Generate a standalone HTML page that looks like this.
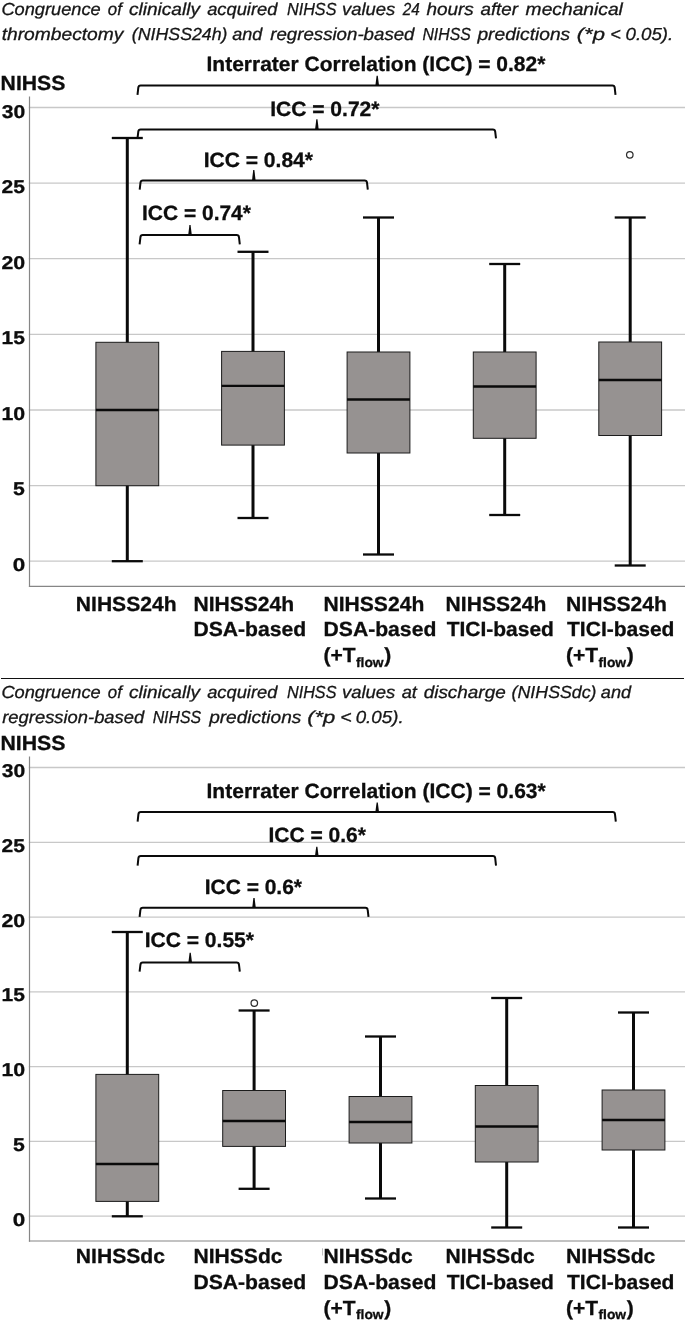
<!DOCTYPE html>
<html><head><meta charset="utf-8"><title>NIHSS boxplots</title>
<style>
html,body{margin:0;padding:0;background:#fff;}
body{width:685px;height:1320px;overflow:hidden;}
svg{display:block;font-family:'Liberation Sans', sans-serif;}
</style></head><body>
<svg width="685" height="1320" viewBox="0 0 685 1320" text-rendering="geometricPrecision">
<rect width="685" height="1320" fill="#fff"/>
<text y="14.9" font-size="17.4" font-weight="normal" font-style="italic" fill="#161616" stroke="#161616" stroke-width="0.3"><tspan x="1.45" textLength="99.23" lengthAdjust="spacingAndGlyphs">Congruence</tspan> <tspan x="107.82" textLength="14.05" lengthAdjust="spacingAndGlyphs">of</tspan> <tspan x="128.95" textLength="71.03" lengthAdjust="spacingAndGlyphs">clinically</tspan> <tspan x="207.17" textLength="70.27" lengthAdjust="spacingAndGlyphs">acquired</tspan> <tspan x="287.04" textLength="49.41" lengthAdjust="spacingAndGlyphs">NIHSS</tspan> <tspan x="342.04" textLength="53.32" lengthAdjust="spacingAndGlyphs">values</tspan> <tspan x="402.70" textLength="17.02" lengthAdjust="spacingAndGlyphs">24</tspan> <tspan x="426.43" textLength="47.33" lengthAdjust="spacingAndGlyphs">hours</tspan> <tspan x="480.46" textLength="37.57" lengthAdjust="spacingAndGlyphs">after</tspan> <tspan x="525.62" textLength="97.27" lengthAdjust="spacingAndGlyphs">mechanical</tspan></text>
<text y="40.1" font-size="17.4" font-weight="normal" font-style="italic" fill="#161616" stroke="#161616" stroke-width="0.3"><tspan x="1.67" textLength="121.73" lengthAdjust="spacingAndGlyphs">thrombectomy</tspan> <tspan x="131.83" textLength="95.69" lengthAdjust="spacingAndGlyphs">(NIHSS24h)</tspan> <tspan x="232.28" textLength="30.12" lengthAdjust="spacingAndGlyphs">and</tspan> <tspan x="270.23" textLength="144.27" lengthAdjust="spacingAndGlyphs">regression-based</tspan> <tspan x="422.45" textLength="48.30" lengthAdjust="spacingAndGlyphs">NIHSS</tspan> <tspan x="477.45" textLength="92.74" lengthAdjust="spacingAndGlyphs">predictions</tspan> <tspan x="576.75" textLength="28.16" lengthAdjust="spacingAndGlyphs">(*p</tspan> <tspan x="610.16" textLength="10.51" lengthAdjust="spacingAndGlyphs">&lt;</tspan> <tspan x="625.49" textLength="47.81" lengthAdjust="spacingAndGlyphs">0.05).</tspan></text>
<text transform="translate(0.60 90.4) scale(1.0390 1)" font-size="20.4" font-weight="bold" font-style="normal" fill="#0d0d0d" stroke="#0d0d0d" stroke-width="0.3">NIHSS</text>
<line x1="28.8" y1="107.5" x2="685" y2="107.5" stroke="#c8c8c8" stroke-width="1.3"/>
<line x1="28.8" y1="183.1" x2="685" y2="183.1" stroke="#c8c8c8" stroke-width="1.3"/>
<line x1="28.8" y1="258.7" x2="685" y2="258.7" stroke="#c8c8c8" stroke-width="1.3"/>
<line x1="28.8" y1="334.4" x2="685" y2="334.4" stroke="#c8c8c8" stroke-width="1.3"/>
<line x1="28.8" y1="410.0" x2="685" y2="410.0" stroke="#c8c8c8" stroke-width="1.3"/>
<line x1="28.8" y1="485.6" x2="685" y2="485.6" stroke="#c8c8c8" stroke-width="1.3"/>
<line x1="28.8" y1="561.2" x2="685" y2="561.2" stroke="#c8c8c8" stroke-width="1.3"/>
<line x1="29.5" y1="96.4" x2="29.5" y2="587" stroke="#868686" stroke-width="1.2"/>
<line x1="28.9" y1="586.3" x2="685" y2="586.3" stroke="#868686" stroke-width="1.2"/>
<text transform="translate(1.73 117.5) scale(1.1377 1)" font-size="18.5" font-weight="bold" font-style="normal" fill="#0d0d0d" stroke="#0d0d0d" stroke-width="0.3">30</text>
<text transform="translate(1.45 193.0) scale(1.1377 1)" font-size="18.5" font-weight="bold" font-style="normal" fill="#0d0d0d" stroke="#0d0d0d" stroke-width="0.3">25</text>
<text transform="translate(1.44 268.6) scale(1.1526 1)" font-size="18.5" font-weight="bold" font-style="normal" fill="#0d0d0d" stroke="#0d0d0d" stroke-width="0.3">20</text>
<text transform="translate(1.48 344.1) scale(1.1360 1)" font-size="18.5" font-weight="bold" font-style="normal" fill="#0d0d0d" stroke="#0d0d0d" stroke-width="0.3">15</text>
<text transform="translate(1.46 419.6) scale(1.1514 1)" font-size="18.5" font-weight="bold" font-style="normal" fill="#0d0d0d" stroke="#0d0d0d" stroke-width="0.3">10</text>
<text transform="translate(13.03 495.1) scale(1.1459 1)" font-size="18.5" font-weight="bold" font-style="normal" fill="#0d0d0d" stroke="#0d0d0d" stroke-width="0.3">5</text>
<text transform="translate(12.69 570.7) scale(1.2114 1)" font-size="18.5" font-weight="bold" font-style="normal" fill="#0d0d0d" stroke="#0d0d0d" stroke-width="0.3">0</text>
<line x1="127.3" y1="138" x2="127.3" y2="561.2" stroke="#0a0a0a" stroke-width="3"/>
<line x1="111.8" y1="138" x2="142.8" y2="138" stroke="#0a0a0a" stroke-width="2.3"/>
<line x1="111.8" y1="561.2" x2="142.8" y2="561.2" stroke="#0a0a0a" stroke-width="2.3"/>
<rect x="95.9" y="342.3" width="62.8" height="143.39999999999998" fill="#969291" stroke="#1c1c1c" stroke-width="1"/>
<line x1="95.9" y1="410" x2="158.7" y2="410" stroke="#0a0a0a" stroke-width="2.3"/>
<line x1="253" y1="251.8" x2="253" y2="518" stroke="#0a0a0a" stroke-width="3"/>
<line x1="237.5" y1="251.8" x2="268.5" y2="251.8" stroke="#0a0a0a" stroke-width="2.3"/>
<line x1="237.5" y1="518" x2="268.5" y2="518" stroke="#0a0a0a" stroke-width="2.3"/>
<rect x="221.6" y="351.4" width="62.8" height="93.70000000000005" fill="#969291" stroke="#1c1c1c" stroke-width="1"/>
<line x1="221.6" y1="385.8" x2="284.4" y2="385.8" stroke="#0a0a0a" stroke-width="2.3"/>
<line x1="378.5" y1="217.5" x2="378.5" y2="554.5" stroke="#0a0a0a" stroke-width="3"/>
<line x1="363.0" y1="217.5" x2="394.0" y2="217.5" stroke="#0a0a0a" stroke-width="2.3"/>
<line x1="363.0" y1="554.5" x2="394.0" y2="554.5" stroke="#0a0a0a" stroke-width="2.3"/>
<rect x="347.1" y="352" width="62.8" height="101" fill="#969291" stroke="#1c1c1c" stroke-width="1"/>
<line x1="347.1" y1="399.5" x2="409.90000000000003" y2="399.5" stroke="#0a0a0a" stroke-width="2.3"/>
<line x1="504.7" y1="264" x2="504.7" y2="515" stroke="#0a0a0a" stroke-width="3"/>
<line x1="489.2" y1="264" x2="520.2" y2="264" stroke="#0a0a0a" stroke-width="2.3"/>
<line x1="489.2" y1="515" x2="520.2" y2="515" stroke="#0a0a0a" stroke-width="2.3"/>
<rect x="473.3" y="352" width="62.8" height="86.30000000000001" fill="#969291" stroke="#1c1c1c" stroke-width="1"/>
<line x1="473.3" y1="386.5" x2="536.1" y2="386.5" stroke="#0a0a0a" stroke-width="2.3"/>
<line x1="630.2" y1="217.5" x2="630.2" y2="565.5" stroke="#0a0a0a" stroke-width="3"/>
<line x1="614.7" y1="217.5" x2="645.7" y2="217.5" stroke="#0a0a0a" stroke-width="2.3"/>
<line x1="614.7" y1="565.5" x2="645.7" y2="565.5" stroke="#0a0a0a" stroke-width="2.3"/>
<rect x="598.8000000000001" y="342" width="62.8" height="93.5" fill="#969291" stroke="#1c1c1c" stroke-width="1"/>
<line x1="598.8000000000001" y1="380" x2="661.6" y2="380" stroke="#0a0a0a" stroke-width="2.3"/>
<circle cx="629.8" cy="154.8" r="3.25" fill="#fff" stroke="#2e2e2e" stroke-width="1.25"/>
<path d="M137.5 94.8 L138.30 87.60000000000001 Q138.50 85.4 140.70 85.4 H612.30 Q614.50 85.4 614.70 87.60000000000001 L615.5 94.8" fill="none" stroke="#0a0a0a" stroke-width="2" stroke-linecap="butt"/>
<path d="M375.4 85.4 L376.59999999999997 75.8 H377.8 L379.0 85.4 Z" fill="#0a0a0a"/>
<path d="M137.5 138.3 L138.30 131.6 Q138.50 129.4 140.70 129.4 H492.80 Q495.00 129.4 495.20 131.6 L496 138.3" fill="none" stroke="#0a0a0a" stroke-width="2" stroke-linecap="butt"/>
<path d="M315.09999999999997 129.4 L316.29999999999995 119.2 H317.5 L318.7 129.4 Z" fill="#0a0a0a"/>
<path d="M139.7 189.6 L140.50 182.7 Q140.70 180.5 142.90 180.5 H364.60 Q366.80 180.5 367.00 182.7 L367.8 189.6" fill="none" stroke="#0a0a0a" stroke-width="2" stroke-linecap="butt"/>
<path d="M252.0 180.5 L253.20000000000002 169.9 H254.4 L255.60000000000002 180.5 Z" fill="#0a0a0a"/>
<path d="M139.6 244.3 L140.40 237.29999999999998 Q140.60 235.1 142.80 235.1 H236.60 Q238.80 235.1 239.00 237.29999999999998 L239.8 244.3" fill="none" stroke="#0a0a0a" stroke-width="2" stroke-linecap="butt"/>
<path d="M188.2 235.1 L189.4 224.9 H190.6 L191.8 235.1 Z" fill="#0a0a0a"/>
<text transform="translate(206.53 71.4) scale(1.0146 1)" font-size="20.7" font-weight="bold" font-style="normal" fill="#0d0d0d" stroke="#0d0d0d" stroke-width="0.3">Interrater Correlation (ICC) = 0.82*</text>
<text transform="translate(270.13 115.9) scale(1.0174 1)" font-size="20.7" font-weight="bold" font-style="normal" fill="#0d0d0d" stroke="#0d0d0d" stroke-width="0.3">ICC = 0.72*</text>
<text transform="translate(203.63 167.1) scale(1.0174 1)" font-size="20.7" font-weight="bold" font-style="normal" fill="#0d0d0d" stroke="#0d0d0d" stroke-width="0.3">ICC = 0.84*</text>
<text transform="translate(142.03 220.2) scale(1.0127 1)" font-size="20.7" font-weight="bold" font-style="normal" fill="#0d0d0d" stroke="#0d0d0d" stroke-width="0.3">ICC = 0.74*</text>
<text transform="translate(75.81 610.8) scale(1.0283 1)" font-size="20.5" font-weight="bold" font-style="normal" fill="#0d0d0d" stroke="#0d0d0d" stroke-width="0.3">NIHSS24h</text>
<text transform="translate(193.41 610.8) scale(1.0283 1)" font-size="20.5" font-weight="bold" font-style="normal" fill="#0d0d0d" stroke="#0d0d0d" stroke-width="0.3">NIHSS24h</text>
<text transform="translate(323.51 610.8) scale(1.0283 1)" font-size="20.5" font-weight="bold" font-style="normal" fill="#0d0d0d" stroke="#0d0d0d" stroke-width="0.3">NIHSS24h</text>
<text transform="translate(445.61 610.8) scale(1.0283 1)" font-size="20.5" font-weight="bold" font-style="normal" fill="#0d0d0d" stroke="#0d0d0d" stroke-width="0.3">NIHSS24h</text>
<text transform="translate(566.11 610.8) scale(1.0283 1)" font-size="20.5" font-weight="bold" font-style="normal" fill="#0d0d0d" stroke="#0d0d0d" stroke-width="0.3">NIHSS24h</text>
<text transform="translate(193.41 636) scale(1.0314 1)" font-size="20.5" font-weight="bold" font-style="normal" fill="#0d0d0d" stroke="#0d0d0d" stroke-width="0.3">DSA-based</text>
<text transform="translate(323.51 636) scale(1.0314 1)" font-size="20.5" font-weight="bold" font-style="normal" fill="#0d0d0d" stroke="#0d0d0d" stroke-width="0.3">DSA-based</text>
<text transform="translate(446.64 636) scale(1.0237 1)" font-size="20.5" font-weight="bold" font-style="normal" fill="#0d0d0d" stroke="#0d0d0d" stroke-width="0.3">TICI-based</text>
<text transform="translate(567.04 636) scale(1.0247 1)" font-size="20.5" font-weight="bold" font-style="normal" fill="#0d0d0d" stroke="#0d0d0d" stroke-width="0.3">TICI-based</text>
<text transform="translate(323.55 662.2) scale(1.025 1)" font-size="20.5" font-weight="bold" fill="#0d0d0d" stroke="#0d0d0d" stroke-width="0.3">(+T<tspan font-size="13.5" dx="0.3" dy="5.1">flow</tspan><tspan dx="0.7" dy="-5.1">)</tspan></text>
<text transform="translate(566.05 662.2) scale(1.025 1)" font-size="20.5" font-weight="bold" fill="#0d0d0d" stroke="#0d0d0d" stroke-width="0.3">(+T<tspan font-size="13.5" dx="0.3" dy="5.1">flow</tspan><tspan dx="0.7" dy="-5.1">)</tspan></text>
<line x1="1" y1="678.5" x2="684" y2="678.5" stroke="#111" stroke-width="1.1"/>
<text y="697.9" font-size="17.4" font-weight="normal" font-style="italic" fill="#161616" stroke="#161616" stroke-width="0.3"><tspan x="1.45" textLength="99.23" lengthAdjust="spacingAndGlyphs">Congruence</tspan> <tspan x="107.82" textLength="14.05" lengthAdjust="spacingAndGlyphs">of</tspan> <tspan x="128.95" textLength="71.03" lengthAdjust="spacingAndGlyphs">clinically</tspan> <tspan x="207.17" textLength="70.27" lengthAdjust="spacingAndGlyphs">acquired</tspan> <tspan x="287.04" textLength="49.41" lengthAdjust="spacingAndGlyphs">NIHSS</tspan> <tspan x="342.04" textLength="53.32" lengthAdjust="spacingAndGlyphs">values</tspan> <tspan x="401.68" textLength="15.22" lengthAdjust="spacingAndGlyphs">at</tspan> <tspan x="423.66" textLength="82.06" lengthAdjust="spacingAndGlyphs">discharge</tspan> <tspan x="511.63" textLength="84.90" lengthAdjust="spacingAndGlyphs">(NIHSSdc)</tspan> <tspan x="600.88" textLength="30.22" lengthAdjust="spacingAndGlyphs">and</tspan></text>
<text y="722.8" font-size="17.4" font-weight="normal" font-style="italic" fill="#161616" stroke="#161616" stroke-width="0.3"><tspan x="2.24" textLength="141.97" lengthAdjust="spacingAndGlyphs">regression-based</tspan> <tspan x="152.64" textLength="48.50" lengthAdjust="spacingAndGlyphs">NIHSS</tspan> <tspan x="209.15" textLength="92.15" lengthAdjust="spacingAndGlyphs">predictions</tspan> <tspan x="307.15" textLength="28.16" lengthAdjust="spacingAndGlyphs">(*p</tspan> <tspan x="340.38" textLength="11.35" lengthAdjust="spacingAndGlyphs">&lt;</tspan> <tspan x="355.69" textLength="47.91" lengthAdjust="spacingAndGlyphs">0.05).</tspan></text>
<text transform="translate(0.40 749.8) scale(1.0440 1)" font-size="20.4" font-weight="bold" font-style="normal" fill="#0d0d0d" stroke="#0d0d0d" stroke-width="0.3">NIHSS</text>
<line x1="28.8" y1="767.5" x2="685" y2="767.5" stroke="#c8c8c8" stroke-width="1.3"/>
<line x1="28.8" y1="842.3" x2="685" y2="842.3" stroke="#c8c8c8" stroke-width="1.3"/>
<line x1="28.8" y1="917.1" x2="685" y2="917.1" stroke="#c8c8c8" stroke-width="1.3"/>
<line x1="28.8" y1="991.8" x2="685" y2="991.8" stroke="#c8c8c8" stroke-width="1.3"/>
<line x1="28.8" y1="1066.6" x2="685" y2="1066.6" stroke="#c8c8c8" stroke-width="1.3"/>
<line x1="28.8" y1="1141.4" x2="685" y2="1141.4" stroke="#c8c8c8" stroke-width="1.3"/>
<line x1="28.8" y1="1216.2" x2="685" y2="1216.2" stroke="#c8c8c8" stroke-width="1.3"/>
<line x1="29.5" y1="756.4" x2="29.5" y2="1241.7" stroke="#868686" stroke-width="1.2"/>
<line x1="28.9" y1="1241" x2="685" y2="1241" stroke="#868686" stroke-width="1.2"/>
<text transform="translate(1.73 777.2) scale(1.1377 1)" font-size="18.5" font-weight="bold" font-style="normal" fill="#0d0d0d" stroke="#0d0d0d" stroke-width="0.3">30</text>
<text transform="translate(1.45 851.9) scale(1.1377 1)" font-size="18.5" font-weight="bold" font-style="normal" fill="#0d0d0d" stroke="#0d0d0d" stroke-width="0.3">25</text>
<text transform="translate(1.44 926.7) scale(1.1526 1)" font-size="18.5" font-weight="bold" font-style="normal" fill="#0d0d0d" stroke="#0d0d0d" stroke-width="0.3">20</text>
<text transform="translate(1.48 1001.4) scale(1.1360 1)" font-size="18.5" font-weight="bold" font-style="normal" fill="#0d0d0d" stroke="#0d0d0d" stroke-width="0.3">15</text>
<text transform="translate(1.46 1076.1) scale(1.1514 1)" font-size="18.5" font-weight="bold" font-style="normal" fill="#0d0d0d" stroke="#0d0d0d" stroke-width="0.3">10</text>
<text transform="translate(13.03 1150.9) scale(1.1459 1)" font-size="18.5" font-weight="bold" font-style="normal" fill="#0d0d0d" stroke="#0d0d0d" stroke-width="0.3">5</text>
<text transform="translate(12.69 1225.6) scale(1.2114 1)" font-size="18.5" font-weight="bold" font-style="normal" fill="#0d0d0d" stroke="#0d0d0d" stroke-width="0.3">0</text>
<line x1="127.3" y1="932" x2="127.3" y2="1216.3" stroke="#0a0a0a" stroke-width="3"/>
<line x1="111.8" y1="932" x2="142.8" y2="932" stroke="#0a0a0a" stroke-width="2.3"/>
<line x1="111.8" y1="1216.3" x2="142.8" y2="1216.3" stroke="#0a0a0a" stroke-width="2.3"/>
<rect x="95.9" y="1074.4" width="62.8" height="127.0" fill="#969291" stroke="#1c1c1c" stroke-width="1"/>
<line x1="95.9" y1="1164" x2="158.7" y2="1164" stroke="#0a0a0a" stroke-width="2.3"/>
<line x1="254.1" y1="1010.5" x2="254.1" y2="1188.8" stroke="#0a0a0a" stroke-width="3"/>
<line x1="238.6" y1="1010.5" x2="269.6" y2="1010.5" stroke="#0a0a0a" stroke-width="2.3"/>
<line x1="238.6" y1="1188.8" x2="269.6" y2="1188.8" stroke="#0a0a0a" stroke-width="2.3"/>
<rect x="222.7" y="1090.5" width="62.8" height="55.90000000000009" fill="#969291" stroke="#1c1c1c" stroke-width="1"/>
<line x1="222.7" y1="1121" x2="285.5" y2="1121" stroke="#0a0a0a" stroke-width="2.3"/>
<line x1="380.5" y1="1036.5" x2="380.5" y2="1198.5" stroke="#0a0a0a" stroke-width="3"/>
<line x1="365.0" y1="1036.5" x2="396.0" y2="1036.5" stroke="#0a0a0a" stroke-width="2.3"/>
<line x1="365.0" y1="1198.5" x2="396.0" y2="1198.5" stroke="#0a0a0a" stroke-width="2.3"/>
<rect x="349.1" y="1096.5" width="62.8" height="46.5" fill="#969291" stroke="#1c1c1c" stroke-width="1"/>
<line x1="349.1" y1="1122" x2="411.90000000000003" y2="1122" stroke="#0a0a0a" stroke-width="2.3"/>
<line x1="506.7" y1="998" x2="506.7" y2="1227.5" stroke="#0a0a0a" stroke-width="3"/>
<line x1="491.2" y1="998" x2="522.2" y2="998" stroke="#0a0a0a" stroke-width="2.3"/>
<line x1="491.2" y1="1227.5" x2="522.2" y2="1227.5" stroke="#0a0a0a" stroke-width="2.3"/>
<rect x="475.3" y="1085.5" width="62.8" height="76.5" fill="#969291" stroke="#1c1c1c" stroke-width="1"/>
<line x1="475.3" y1="1126.5" x2="538.1" y2="1126.5" stroke="#0a0a0a" stroke-width="2.3"/>
<line x1="633.5" y1="1012.5" x2="633.5" y2="1227.5" stroke="#0a0a0a" stroke-width="3"/>
<line x1="618.0" y1="1012.5" x2="649.0" y2="1012.5" stroke="#0a0a0a" stroke-width="2.3"/>
<line x1="618.0" y1="1227.5" x2="649.0" y2="1227.5" stroke="#0a0a0a" stroke-width="2.3"/>
<rect x="602.1" y="1090" width="62.8" height="60" fill="#969291" stroke="#1c1c1c" stroke-width="1"/>
<line x1="602.1" y1="1120" x2="664.9" y2="1120" stroke="#0a0a0a" stroke-width="2.3"/>
<circle cx="254.3" cy="1003" r="3.25" fill="#fff" stroke="#2e2e2e" stroke-width="1.25"/>
<path d="M137.6 821.6 L138.40 814.3000000000001 Q138.60 812.1 140.80 812.1 H612.60 Q614.80 812.1 615.00 814.3000000000001 L615.8 821.6" fill="none" stroke="#0a0a0a" stroke-width="2" stroke-linecap="butt"/>
<path d="M375.4 812.1 L376.59999999999997 802.4 H377.8 L379.0 812.1 Z" fill="#0a0a0a"/>
<path d="M137.6 865.6 L138.40 858.2 Q138.60 856 140.80 856 H492.80 Q495.00 856 495.20 858.2 L496 865.6" fill="none" stroke="#0a0a0a" stroke-width="2" stroke-linecap="butt"/>
<path d="M315.0 856 L316.2 846.8 H317.40000000000003 L318.6 856 Z" fill="#0a0a0a"/>
<path d="M139.6 916.8 L140.40 909.9000000000001 Q140.60 907.7 142.80 907.7 H365.30 Q367.50 907.7 367.70 909.9000000000001 L368.5 916.8" fill="none" stroke="#0a0a0a" stroke-width="2" stroke-linecap="butt"/>
<path d="M252.2 907.7 L253.4 898.1 H254.6 L255.8 907.7 Z" fill="#0a0a0a"/>
<path d="M139.6 971.6 L140.40 964.8000000000001 Q140.60 962.6 142.80 962.6 H236.60 Q238.80 962.6 239.00 964.8000000000001 L239.8 971.6" fill="none" stroke="#0a0a0a" stroke-width="2" stroke-linecap="butt"/>
<path d="M188.39999999999998 962.6 L189.6 952.7 H190.79999999999998 L192.0 962.6 Z" fill="#0a0a0a"/>
<text transform="translate(206.53 797.9) scale(1.0155 1)" font-size="20.7" font-weight="bold" font-style="normal" fill="#0d0d0d" stroke="#0d0d0d" stroke-width="0.3">Interrater Correlation (ICC) = 0.63*</text>
<text transform="translate(268.43 842.1) scale(1.0142 1)" font-size="20.7" font-weight="bold" font-style="normal" fill="#0d0d0d" stroke="#0d0d0d" stroke-width="0.3">ICC = 0.6*</text>
<text transform="translate(204.73 893.7) scale(1.0132 1)" font-size="20.7" font-weight="bold" font-style="normal" fill="#0d0d0d" stroke="#0d0d0d" stroke-width="0.3">ICC = 0.6*</text>
<text transform="translate(144.63 947.3) scale(1.0174 1)" font-size="20.7" font-weight="bold" font-style="normal" fill="#0d0d0d" stroke="#0d0d0d" stroke-width="0.3">ICC = 0.55*</text>
<text transform="translate(75.81 1263.3) scale(1.0301 1)" font-size="20.5" font-weight="bold" font-style="normal" fill="#0d0d0d" stroke="#0d0d0d" stroke-width="0.3">NIHSSdc</text>
<text transform="translate(193.41 1263.3) scale(1.0301 1)" font-size="20.5" font-weight="bold" font-style="normal" fill="#0d0d0d" stroke="#0d0d0d" stroke-width="0.3">NIHSSdc</text>
<text transform="translate(323.51 1263.3) scale(1.0301 1)" font-size="20.5" font-weight="bold" font-style="normal" fill="#0d0d0d" stroke="#0d0d0d" stroke-width="0.3">NIHSSdc</text>
<text transform="translate(445.61 1263.3) scale(1.0301 1)" font-size="20.5" font-weight="bold" font-style="normal" fill="#0d0d0d" stroke="#0d0d0d" stroke-width="0.3">NIHSSdc</text>
<text transform="translate(566.11 1263.3) scale(1.0301 1)" font-size="20.5" font-weight="bold" font-style="normal" fill="#0d0d0d" stroke="#0d0d0d" stroke-width="0.3">NIHSSdc</text>
<text transform="translate(193.41 1288.5) scale(1.0314 1)" font-size="20.5" font-weight="bold" font-style="normal" fill="#0d0d0d" stroke="#0d0d0d" stroke-width="0.3">DSA-based</text>
<text transform="translate(323.51 1288.5) scale(1.0314 1)" font-size="20.5" font-weight="bold" font-style="normal" fill="#0d0d0d" stroke="#0d0d0d" stroke-width="0.3">DSA-based</text>
<text transform="translate(446.64 1288.5) scale(1.0237 1)" font-size="20.5" font-weight="bold" font-style="normal" fill="#0d0d0d" stroke="#0d0d0d" stroke-width="0.3">TICI-based</text>
<text transform="translate(567.04 1288.5) scale(1.0247 1)" font-size="20.5" font-weight="bold" font-style="normal" fill="#0d0d0d" stroke="#0d0d0d" stroke-width="0.3">TICI-based</text>
<text transform="translate(323.55 1314.5) scale(1.025 1)" font-size="20.5" font-weight="bold" fill="#0d0d0d" stroke="#0d0d0d" stroke-width="0.3">(+T<tspan font-size="13.5" dx="0.3" dy="4.8">flow</tspan><tspan dx="0.7" dy="-4.8">)</tspan></text>
<text transform="translate(566.05 1314.5) scale(1.025 1)" font-size="20.5" font-weight="bold" fill="#0d0d0d" stroke="#0d0d0d" stroke-width="0.3">(+T<tspan font-size="13.5" dx="0.3" dy="4.8">flow</tspan><tspan dx="0.7" dy="-4.8">)</tspan></text>
<line x1="322.5" y1="1248.3" x2="322.5" y2="1255.5" stroke="#b9b9b9" stroke-width="0.9"/>
</svg>
</body></html>
